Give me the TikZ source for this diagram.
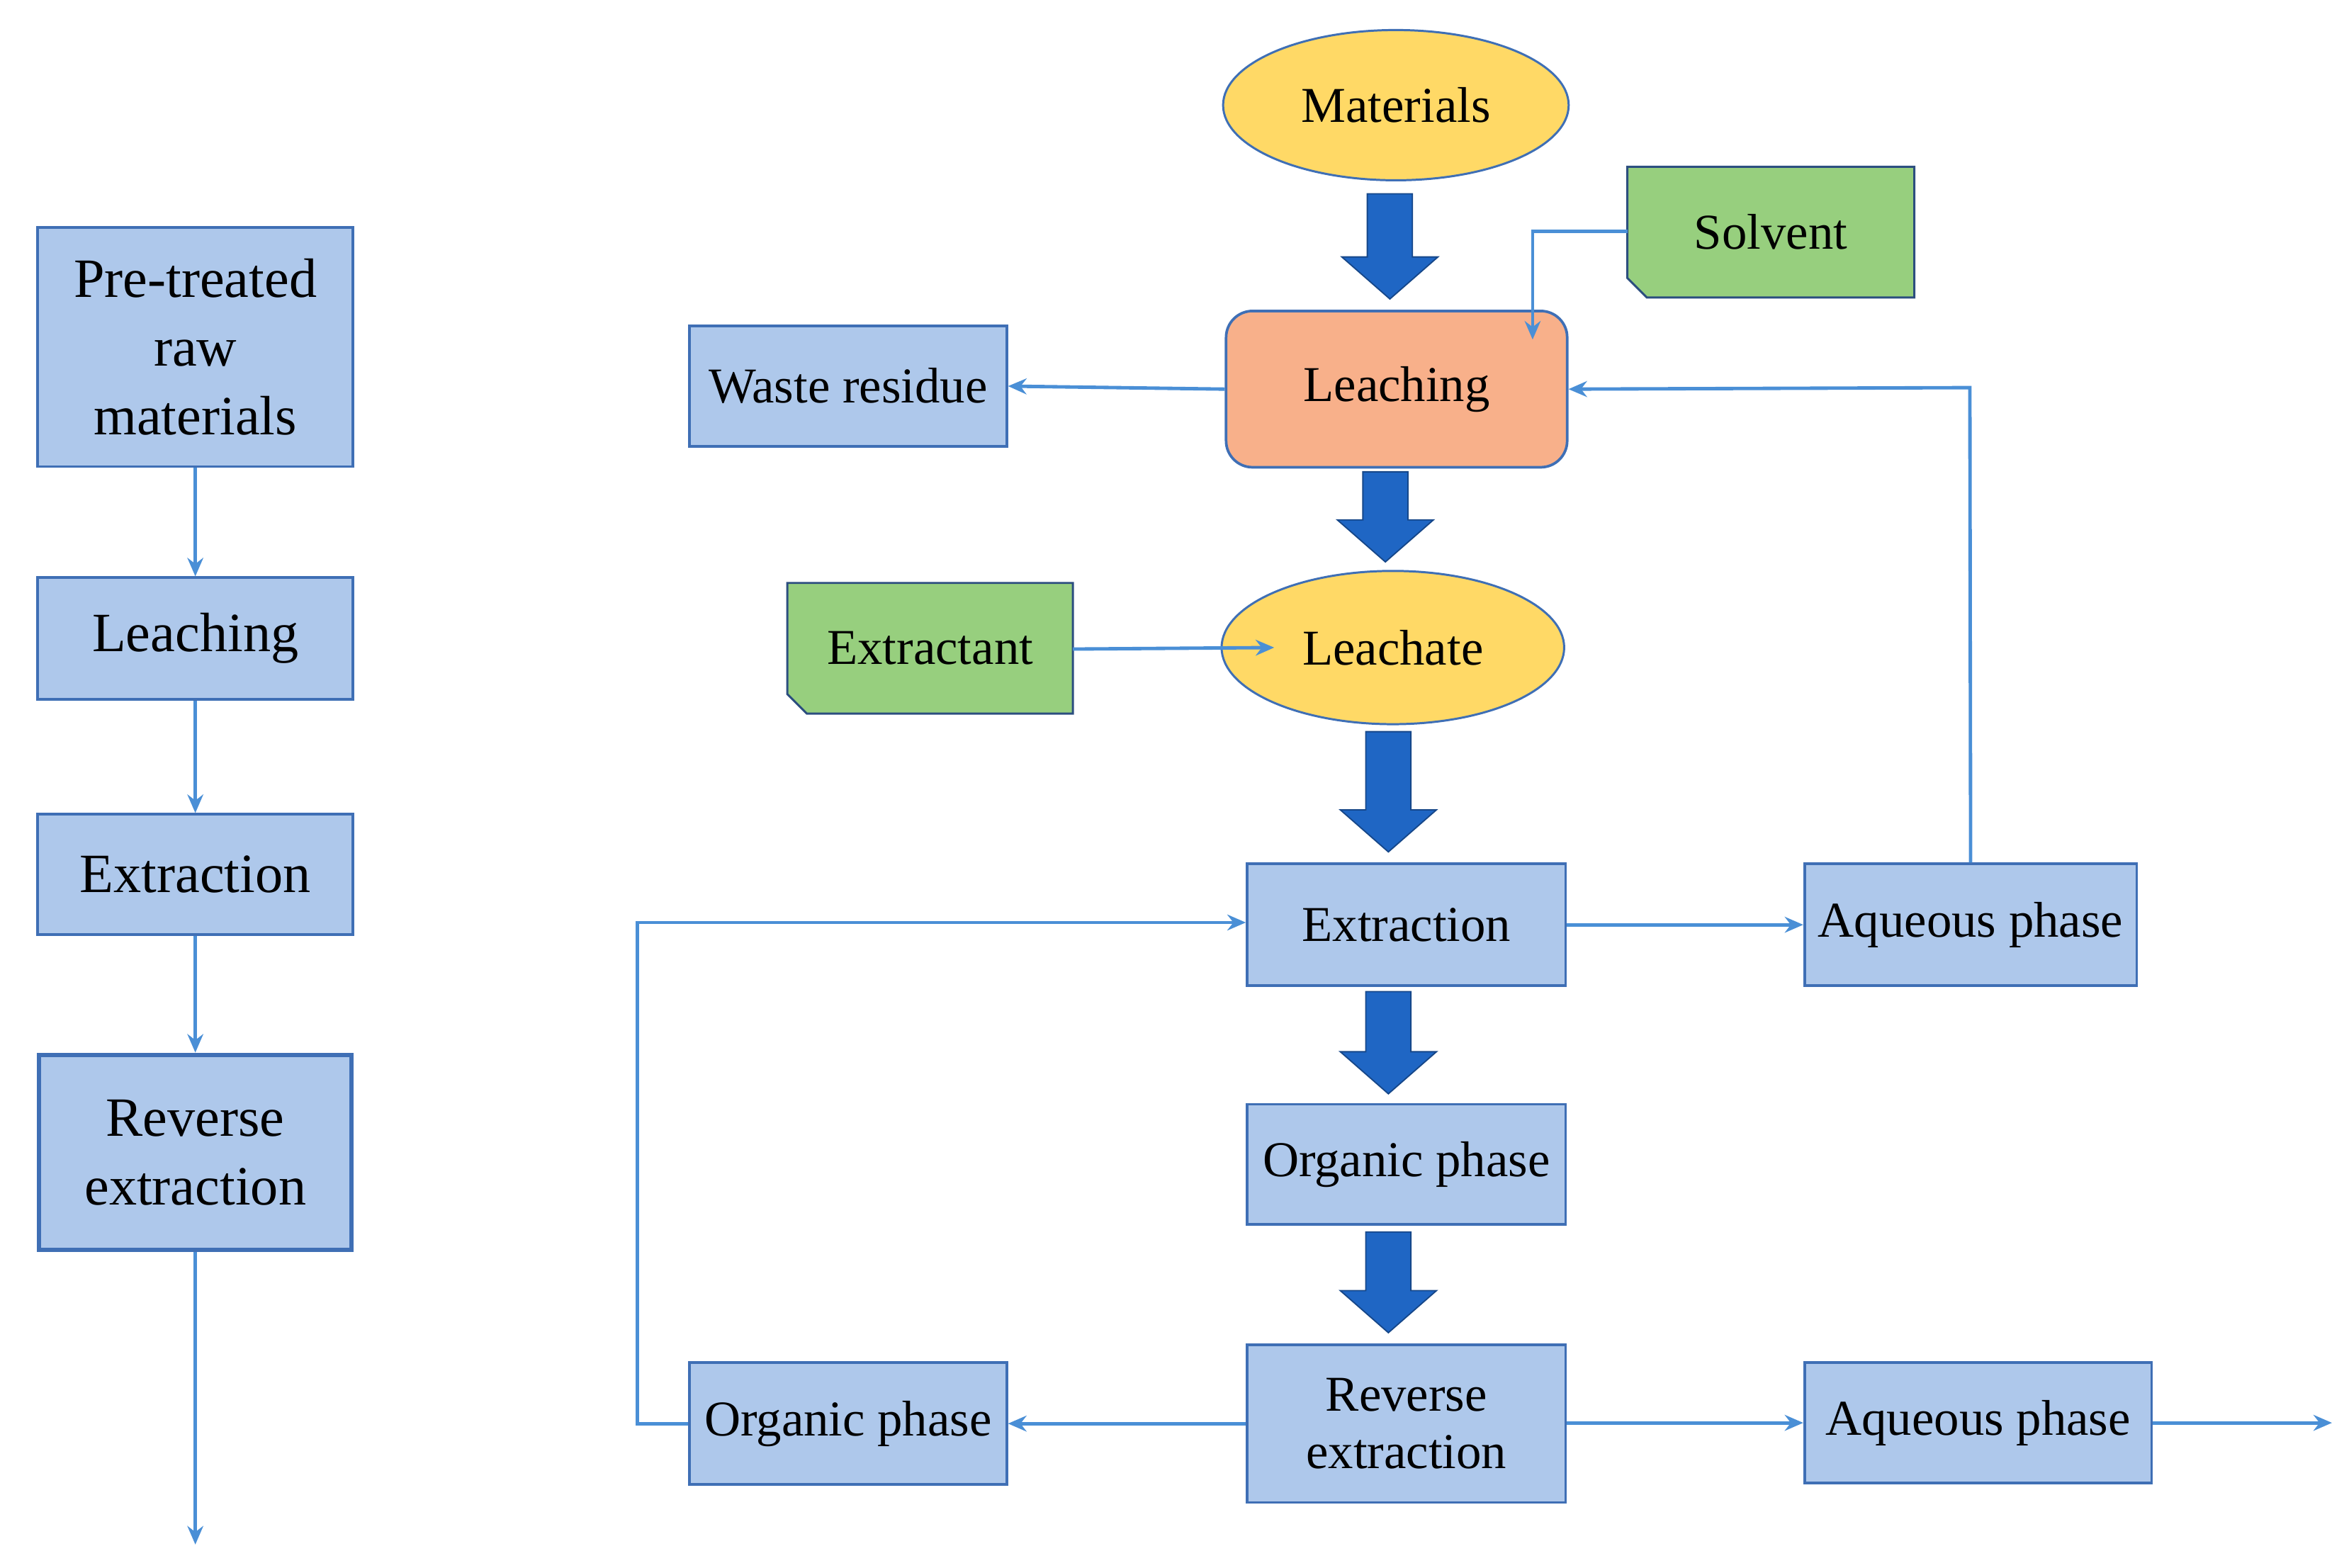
\documentclass[tikz,border=0pt]{standalone}
\usepackage{fontspec}
\setmainfont{Liberation Serif}
\usetikzlibrary{arrows.meta,shapes.geometric}
\definecolor{boxfill}{HTML}{AEC8EB}
\definecolor{boxline}{HTML}{3F6FB5}
\definecolor{lnk}{HTML}{4A8FD6}
\definecolor{big}{HTML}{1F66C4}
\definecolor{yel}{HTML}{FFD966}
\definecolor{org}{HTML}{F8B08A}
\definecolor{grn}{HTML}{97CF7E}
\begin{document}
\begin{tikzpicture}[x=0.02cm,y=-0.02cm,
 box/.style={draw=boxline,line width=1pt,fill=boxfill,inner sep=0pt,align=center,font=\fontsize{19}{22}\selectfont},
 lbox/.style={box,font=\fontsize{21}{26}\selectfont},
 ell/.style={ellipse,draw=boxline,line width=0.8pt,fill=yel,inner sep=0pt,font=\fontsize{19}{22}\selectfont},
 lk/.style={draw=lnk,line width=1.3pt,-{Stealth[length=7pt,width=6pt]}},
 pics/bigarrow/.style={code={\fill[big,draw=big!70!black,line width=0.5pt] (-15,0)--(15,0)--(15,#1-28)--(32,#1-28)--(0,#1)--(-32,#1-28)--(-15,#1-28)--cycle;}}]
\useasboundingbox (0,0) rectangle (1560,1043.6);
% left column
\node[lbox,minimum width=210*0.02cm,minimum height=159*0.02cm] (p1) at (130,231) {Pre-treated\\raw\\materials};
\node[lbox,minimum width=210*0.02cm,minimum height=81*0.02cm] (p2) at (130,425) {Leaching};
\node[lbox,minimum width=210*0.02cm,minimum height=80*0.02cm] (p3) at (130,582) {Extraction};
\node[lbox,minimum width=208*0.02cm,minimum height=130*0.02cm,line width=1.6pt] (p4) at (130,767) {Reverse\\extraction};
\coordinate (pend) at (130,1028);
\draw[lk] (p1) -- (p2);
\draw[lk] (p2) -- (p3);
\draw[lk] (p3) -- (p4);
\draw[lk] (p4) -- (pend);
% right
\node[ell,minimum width=230*0.02cm,minimum height=100*0.02cm] (mat) at (929,70) {Materials};
\node[ell,minimum width=228*0.02cm,minimum height=102*0.02cm] (lea) at (927,431) {Leachate};
\node[box,fill=org,rounded corners=10pt,minimum width=227*0.02cm,minimum height=104*0.02cm] (leach) at (929.5,259) {Leaching};
\node[box,minimum width=211*0.02cm,minimum height=80*0.02cm] (waste) at (564.5,257) {Waste residue};
\fill[grn,draw=boxline!70!black,line width=0.8pt] (1083,111)--(1274,111)--(1274,198)--(1096,198)--(1083,185)--cycle;
\node[font=\fontsize{19}{22}\selectfont] (solv) at (1178.5,154.5) {Solvent};
\fill[grn,draw=boxline!70!black,line width=0.8pt] (524,388)--(714,388)--(714,475)--(537,475)--(524,462)--cycle;
\node[font=\fontsize{19}{22}\selectfont] (extr) at (619,431.5) {Extractant};
\coordinate (solvL) at (1083,154);
\coordinate (extrR) at (714,432);
\node[box,minimum width=212*0.02cm,minimum height=81*0.02cm] (ex) at (936,615.5) {Extraction};
\node[box,minimum width=221*0.02cm,minimum height=81*0.02cm] (aq1) at (1311.5,615.5) {Aqueous phase};
\node[box,minimum width=212*0.02cm,minimum height=80*0.02cm] (org1) at (936,775) {Organic phase};
\node[box,minimum width=212*0.02cm,minimum height=105*0.02cm] (rev) at (936,947.5) {Reverse\\extraction};
\node[box,minimum width=211*0.02cm,minimum height=81*0.02cm] (org2) at (564.5,947.5) {Organic phase};
\node[box,minimum width=231*0.02cm,minimum height=80*0.02cm] (aq2) at (1316.5,947) {Aqueous phase};
\coordinate (aqend) at (1552,947);
% big arrows
\pic at (925,129) {bigarrow=70};
\pic at (922,314) {bigarrow=60};
\pic at (924,487) {bigarrow=80};
\pic at (924,660) {bigarrow=68};
\pic at (924,820) {bigarrow=67};
% connectors
\draw[lk] (leach.west) -- (waste.east);
\draw[lk] (solvL) -- (1020,154) -- (1020,226);
\draw[lk] (extrR) -- (848,431);
\draw[lk] (aq1.north) -- (1311,258) -- (leach.east);
\draw[lk] (ex.east) -- (aq1.west);
\draw[lk] (rev.west|-org2) -- (org2.east);
\draw[lk] (org2.west) -- (424,947.5) -- (424,614) -- (ex.west|-0,614);
\draw[lk] (rev.east|-aq2) -- (aq2.west);
\draw[lk] (aq2.east) -- (aqend);
\end{tikzpicture}
\end{document}
